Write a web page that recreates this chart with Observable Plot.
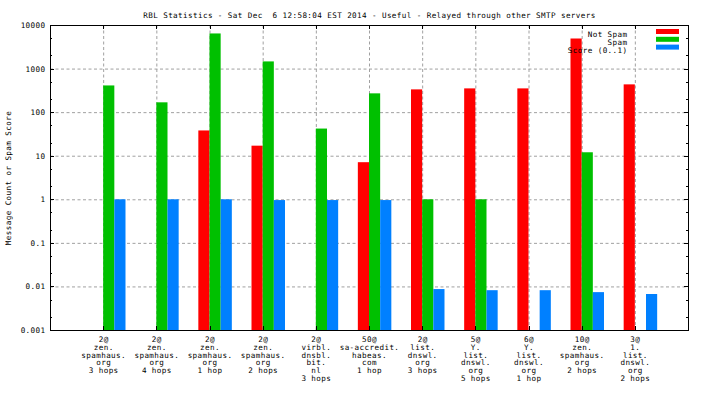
<!DOCTYPE html>
<html><head><meta charset="utf-8">
<script src="https://cdn.jsdelivr.net/npm/d3@7"></script>
<script src="https://cdn.jsdelivr.net/npm/@observablehq/plot@0.6"></script>
<style>
body{margin:0;background:#fff}
svg{display:block}
svg text{white-space:pre;letter-spacing:0.4px}
</style>
</head><body><div id="chart"></div>
<script>
const categories = [
  "2@\nzen.\nspamhaus.\norg\n3 hops",
  "2@\nzen.\nspamhaus.\norg\n4 hops",
  "2@\nzen.\nspamhaus.\norg\n1 hop",
  "2@\nzen.\nspamhaus.\norg\n2 hops",
  "2@\nvirbl.\ndnsbl.\nbit.\nnl\n3 hops",
  "50@\nsa-accredit.\nhabeas.\ncom\n1 hop",
  "2@\nlist.\ndnswl.\norg\n3 hops",
  "5@\nY.\nlist.\ndnswl.\norg\n5 hops",
  "6@\nY.\nlist.\ndnswl.\norg\n1 hop",
  "10@\nzen.\nspamhaus.\norg\n2 hops",
  "3@\n1.\nlist.\ndnswl.\norg\n2 hops"
];
const notSpam = [null, null, 38, 17, null, 7.1, 333, 351, 351, 4900, 434];
const spam    = [410, 168, 6400, 1460, 42, 270, 1, 1, null, 12, null];
const score   = [1, 1, 1, 0.96, 0.96, 0.96, 0.0087, 0.0082, 0.0082, 0.0074, 0.0067];
const yTicks = [0.001, 0.01, 0.1, 1, 10, 100, 1000, 10000];
const yTickLabels = ["0.001", "0.01", "0.1", "1", "10", "100", "1000", "10000"];
const seriesNames = ["Not Spam", "Spam", "Score (0..1)"];
const seriesColors = ["#ff0000", "#00c000", "#0080ff"];
const title = "RBL Statistics - Sat Dec  6 12:58:04 EST 2014 - Useful - Relayed through other SMTP servers";
const yLabel = "Message Count or Spam Score";

const barW = 0.21;
const rows = [];
[notSpam, spam, score].forEach((arr, s) => arr.forEach((v, i) => {
  if (v != null) rows.push({i, s, v, x1: i + (s - 1) * barW, x2: i + s * barW, color: seriesColors[s]});
}));
const idx = d3.range(categories.length);
const minorTicks = [];
for (let e = -3; e < 4; e++) { minorTicks.push(2 * 10 ** e, 5 * 10 ** e); }

const plot = Plot.plot({
  width: 704, height: 396,
  marginLeft: 50, marginRight: 16, marginTop: 25, marginBottom: 66,
  style: {fontFamily: "'DejaVu Sans Mono', monospace", fontSize: "7.6px", background: "#fff", color: "#000", overflow: "visible"},
  x: {type: "linear", domain: [-1, 11], axis: null},
  y: {type: "log", domain: [0.001, 10000], axis: null},
  color: {type: "identity"},
  marks: [
    Plot.gridY(yTicks, {stroke: "#a0a0a0", strokeOpacity: 1, strokeDasharray: "3,2.5"}),
    Plot.gridX(idx, {stroke: "#a0a0a0", strokeOpacity: 1, strokeDasharray: "3,2.5"}),
    Plot.rectY(rows, {x1: "x1", x2: "x2", y1: 0.001, y2: "v", fill: "color"}),
    Plot.axisX(idx, {anchor: "bottom", tickSize: 0, tickPadding: 6.5, tickFormat: i => categories[i], lineHeight: 1.01, fill: "#000", label: null}),
    Plot.axisY(yTicks, {anchor: "left", tickSize: 0, tickPadding: 5, tickFormat: d => yTickLabels[yTicks.indexOf(d)], fill: "#000", label: null}),
    Plot.frame({stroke: "#000"}),
    Plot.text([title], {frameAnchor: "top", dy: -13, fill: "#000"}),
    Plot.text([yLabel], {frameAnchor: "left", rotate: -90, dx: -42, textAnchor: "middle", fill: "#000"}),
    ...seriesNames.map((n, k) => Plot.text([n], {frameAnchor: "top-right", dx: -61, dy: 6.5 + k * 7.8, textAnchor: "end", fill: "#000"}))
  ]
});
document.getElementById("chart").appendChild(plot);

// inward ticks and legend swatches, positioned through the plot's own scales
const xs = plot.scale("x"), ys = plot.scale("y");
const [L, R] = xs.range; const [B, T] = ys.range;
const svg = d3.select(plot);
const g = svg.append("g").attr("stroke", "#000").attr("stroke-width", 1);
yTicks.forEach(v => {
  const y = Math.round(ys.apply(v)) + 0.5;
  g.append("line").attr("x1", L).attr("x2", L + 4).attr("y1", y).attr("y2", y);
  g.append("line").attr("x1", R - 4).attr("x2", R).attr("y1", y).attr("y2", y);
});
minorTicks.forEach(v => {
  const y = Math.round(ys.apply(v)) + 0.5;
  g.append("line").attr("x1", L).attr("x2", L + 2).attr("y1", y).attr("y2", y);
  g.append("line").attr("x1", R - 2).attr("x2", R).attr("y1", y).attr("y2", y);
});
idx.forEach(i => {
  const x = Math.round(xs.apply(i)) + 0.5;
  g.append("line").attr("x1", x).attr("x2", x).attr("y1", T).attr("y2", T + 4);
  g.append("line").attr("x1", x).attr("x2", x).attr("y1", B).attr("y2", B - 4);
});
seriesColors.forEach((c, k) => {
  svg.append("rect").attr("x", R - 32).attr("y", T + 4 + k * 7.8).attr("width", 23).attr("height", 5).attr("fill", c);
});
</script>
</body></html>
